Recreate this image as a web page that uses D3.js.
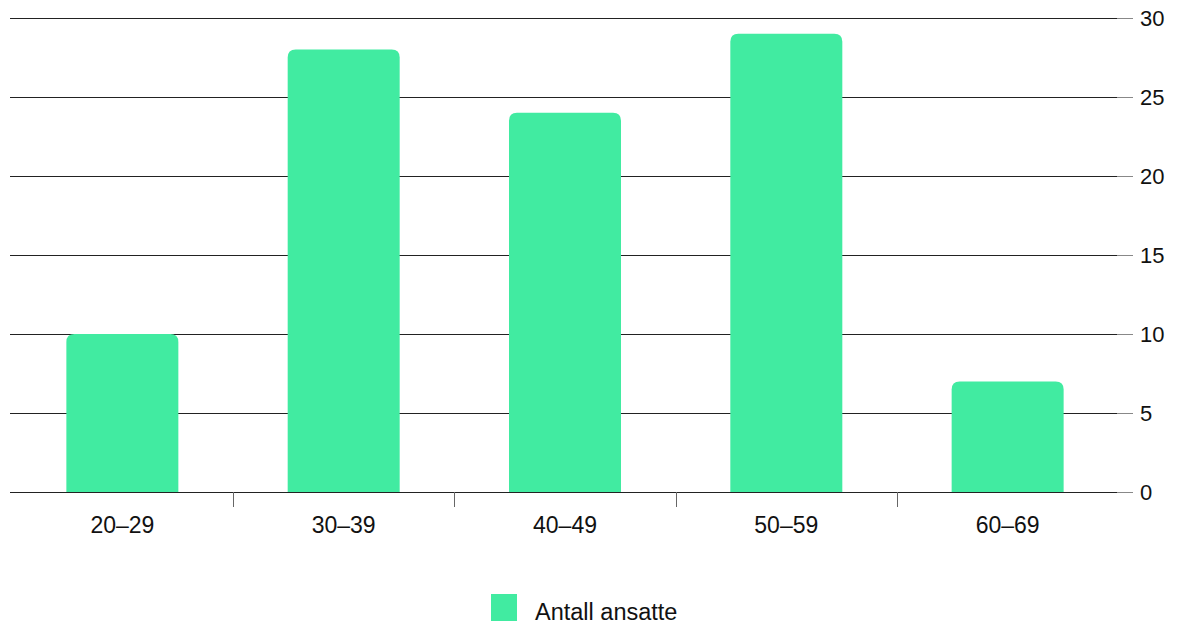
<!DOCTYPE html>
<html>
<head>
<meta charset="utf-8">
<script src="https://cdn.jsdelivr.net/npm/d3@7"></script>
<style>
  html, body { margin: 0; padding: 0; background: #fff; }
  svg { display: block; font-family: "Liberation Sans", Arial, sans-serif; }
</style>
</head>
<body>
<svg id="chart" width="1179" height="628"></svg>
<script>
// Age groups and number of employees in each
const categories = ["20–29", "30–39", "40–49", "50–59", "60–69"];
const values = [10, 28, 24, 29, 7];
const yTicks = [0, 5, 10, 15, 20, 25, 30];
const seriesName = "Antall ansatte";
const barColor = "#41eba1";

const svg = d3.select("#chart");

const x = d3.scaleBand().domain(categories).range([11.7, 1118.3]).padding(0);
const y = d3.scaleLinear().domain([0, 30]).range([492, 18]);
const barW = x.bandwidth() * 0.506;
const r = 8;

// horizontal gridlines
svg.append("g").selectAll("line").data(yTicks).join("line")
  .attr("x1", 10).attr("x2", 1117)
  .attr("y1", d => Math.round(y(d)) + 0.5).attr("y2", d => Math.round(y(d)) + 0.5)
  .attr("stroke", "#222").attr("stroke-width", 1);

// right axis ticks and labels
const yAxis = svg.append("g");
yAxis.selectAll("line").data(yTicks).join("line")
  .attr("x1", 1117).attr("x2", 1133)
  .attr("y1", d => Math.round(y(d)) + 0.5).attr("y2", d => Math.round(y(d)) + 0.5)
  .attr("stroke", "#888");
yAxis.selectAll("text").data(yTicks).join("text")
  .attr("x", 1140).attr("y", d => y(d))
  .attr("dy", "0.35em")
  .attr("font-size", 22).attr("fill", "#111")
  .text(d => d);

// bars with rounded top corners
function barPath(x0, y0, w, h) {
  const rr = Math.min(r, h);
  return `M${x0},${y0 + h}V${y0 + rr}Q${x0},${y0} ${x0 + rr},${y0}` +
         `H${x0 + w - rr}Q${x0 + w},${y0} ${x0 + w},${y0 + rr}V${y0 + h}Z`;
}
svg.append("g").selectAll("path").data(categories).join("path")
  .attr("d", (c, i) => {
    const cx = x(c) + x.bandwidth() / 2;
    return barPath(cx - barW / 2, y(values[i]), barW, y(0) - y(values[i]));
  })
  .attr("fill", barColor);

// baseline redrawn over bar bottoms
svg.append("line")
  .attr("x1", 10).attr("x2", 1117)
  .attr("y1", Math.round(y(0)) + 0.5).attr("y2", Math.round(y(0)) + 0.5)
  .attr("stroke", "#222");

// category separators on the baseline
svg.append("g").selectAll("line").data(categories.slice(1)).join("line")
  .attr("x1", c => Math.round(x(c)) + 0.5).attr("x2", c => Math.round(x(c)) + 0.5)
  .attr("y1", y(0)).attr("y2", y(0) + 15)
  .attr("stroke", "#666");

// category labels
svg.append("g").selectAll("text").data(categories).join("text")
  .attr("x", c => x(c) + x.bandwidth() / 2)
  .attr("y", 525).attr("dy", "0.35em")
  .attr("text-anchor", "middle")
  .attr("font-size", 23).attr("fill", "#111")
  .text(c => c);

// legend
const legend = svg.append("g");
legend.append("rect")
  .attr("x", 491).attr("y", 594).attr("width", 26).attr("height", 27)
  .attr("fill", barColor);
legend.append("text")
  .attr("x", 535).attr("y", 612).attr("dy", "0.35em")
  .attr("font-size", 23.5).attr("fill", "#111")
  .text(seriesName);
</script>
</body>
</html>
